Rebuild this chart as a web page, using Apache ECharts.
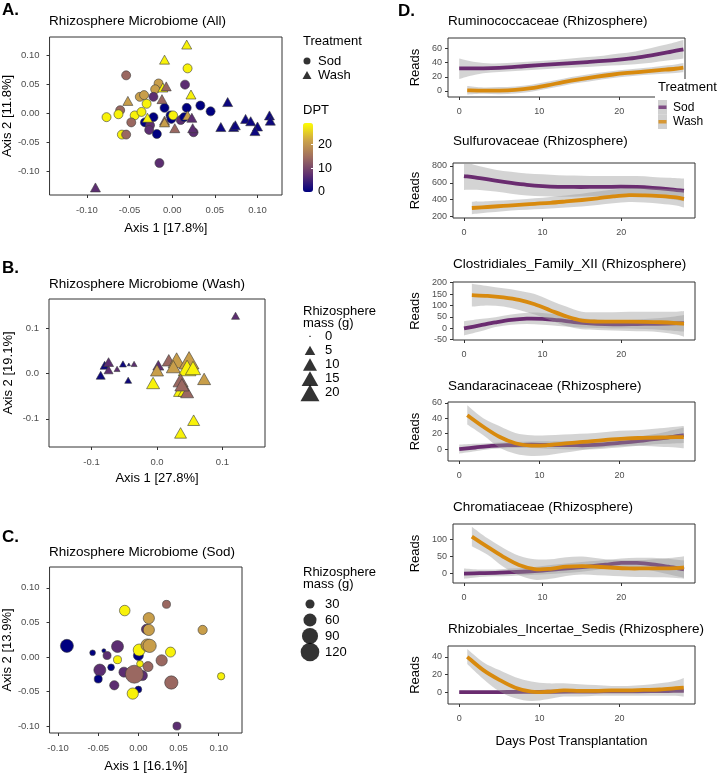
<!DOCTYPE html>
<html><head><meta charset="utf-8">
<script src="https://cdn.jsdelivr.net/npm/echarts@6/dist/echarts.min.js"></script>
<style>html,body{margin:0;padding:0;background:#fff}#c{width:720px;height:774px}</style>
</head><body><div id="c"></div>
<script>
// ================= DATA =================
// Panel A (all samples): [Axis1, Axis2, DPT]
const allSod = [[0.018,0.077,28],[-0.054,0.065,14],[-0.016,0.051,21],[-0.020,0.041,21],[0.015,0.049,7],[-0.038,0.028,21],[-0.033,0.031,21],[-0.022,0.028,7],[-0.030,0.016,28],[-0.061,0.005,14],[-0.063,-0.002,28],[-0.077,-0.007,28],[-0.044,-0.004,28],[-0.036,0.002,28],[-0.048,-0.016,14],[-0.059,-0.037,28],[-0.054,-0.037,14],[-0.009,0.009,0],[-0.022,-0.007,0],[-0.032,-0.016,0],[-0.026,-0.021,7],[-0.027,-0.029,7],[-0.018,-0.036,0],[-0.002,-0.004,0],[-0.001,-0.010,0],[0.001,-0.004,28],[0.010,-0.012,7],[0.014,-0.007,0],[0.017,0.009,0],[0.033,0.013,0],[0.045,0.003,0],[0.025,-0.033,7],[-0.015,-0.086,7]];
const allWash = [[0.017,0.118,28],[-0.009,0.092,28],[-0.011,0.044,28],[-0.007,0.046,14],[0.022,0.032,28],[-0.052,0.021,21],[-0.012,0.024,14],[0.065,0.019,1],[-0.029,-0.008,28],[-0.009,-0.013,14],[-0.009,-0.016,21],[0.003,-0.026,14],[0.018,-0.004,21],[0.023,-0.008,7],[0.024,-0.026,7],[0.057,-0.024,1],[0.072,-0.024,1],[0.074,-0.021,1],[0.086,-0.010,1],[0.092,-0.014,1],[0.100,-0.023,1],[0.097,-0.031,1],[0.114,-0.004,1],[0.115,-0.013,1],[-0.090,-0.128,7]];
// Panel B (Wash): [Axis1, Axis2, DPT, mass g]
const washPts = [[0.120,0.127,7,2.5],[-0.086,-0.004,1,3.4],[-0.080,0.018,1,3.4],[-0.074,0.025,7,4.4],[-0.074,0.008,7,3.4],[-0.061,0.010,7,1.1],[-0.052,0.021,1,1.7],[-0.043,0.020,1,0.1],[-0.035,0.021,7,1.1],[-0.044,-0.015,1,1.7],[0.002,0.018,7,5.6],[0.000,0.007,21,8.4],[-0.006,-0.021,28,8.4],[0.018,0.029,14,8.4],[0.030,0.029,21,15.6],[0.025,0.015,21,10],[0.049,0.029,21,22],[0.046,0.012,28,17],[0.055,0.012,28,12],[0.072,-0.012,21,8.4],[0.036,-0.015,14,11.7],[0.036,-0.037,28,10],[0.043,-0.037,28,10],[0.046,-0.041,14,8.4],[0.038,-0.025,14,10],[0.056,-0.103,28,6.9],[0.036,-0.131,28,6.9]];
// Panel C (Sod): [Axis1, Axis2, DPT, mass g]
const sodPts = [[-0.089,0.016,0,60],[-0.057,0.006,0,12.5],[-0.043,0.009,0,6.6],[-0.039,0.002,7,23.6],[-0.026,0.015,7,51],[-0.026,-0.004,28,23.6],[-0.034,-0.015,0,17],[-0.048,-0.019,7,51],[-0.050,-0.032,0,23.6],[-0.030,-0.041,7,31],[-0.018,-0.022,7,36],[0.005,-0.027,7,36],[-0.005,-0.025,14,112],[0.000,-0.047,0,17],[-0.007,-0.053,28,45],[0.002,-0.010,28,17],[0.000,0.002,0,36],[0.001,0.010,28,51],[0.010,0.040,7,36],[0.013,0.039,21,45],[0.013,0.056,21,45],[0.011,0.017,21,55],[0.014,0.016,21,62],[-0.017,0.067,28,40],[0.035,0.076,14,23.6],[0.012,-0.014,14,36],[0.029,-0.005,14,45],[0.040,0.007,28,36],[0.041,-0.037,14,62],[0.080,0.039,21,31],[0.103,-0.028,28,20],[0.048,-0.100,7,23.6]];
const treatments = ['Sod','Wash'];
const dptTicks = [0,10,20];
const massLegendB = [0,5,10,15,20];
const massLegendC = [30,60,90,120];
const ticksA = [-0.10,-0.05,0,0.05,0.10];
const ticksB = [-0.1,0,0.1];
const ticksC = [-0.10,-0.05,0,0.05,0.10];

// Panel D: loess fits (mean, lower, upper)
const daysSod  = [0,2,4,6,8,10,12,14,16,18,20,22,24,26,28];
const daysWash = [1,3,5,7,9,11,13,15,17,19,21,23,25,27,28];
const dayTicks = [0,10,20];
const familyNames = ['Ruminococcaceae (Rhizosphere)','Sulfurovaceae (Rhizosphere)','Clostridiales_Family_XII (Rhizosphere)','Sandaracinaceae (Rhizosphere)','Chromatiaceae (Rhizosphere)','Rhizobiales_Incertae_Sedis (Rhizosphere)'];
const readTicks = [[0,20,40,60],[200,400,600,800],[-50,0,50,100,150,200],[0,20,40,60],[0,50,100],[0,20,40]];

const rumSod    = [32,32,32.5,33.5,35,36.5,38,39.5,41,42.5,44.5,47,50.5,54.5,59];
const rumSodLo  = [17,23,26,27.5,29,30.5,32,33,34,35.5,36.5,38,40,43,46];
const rumSodHi  = [46,41,39,39.5,41,42.5,44,46,48,50,53,56,61,66,72];
const rumWash   = [1,0.5,0.5,1.5,4,8,12.5,16.5,20,23,25.5,27.5,29.5,31.5,33];
const rumWashLo = [-5,-4,-4.5,-3.5,-1,3,7.5,11.5,15,18,20.5,22.5,24,25.5,26.5];
const rumWashHi = [7,5,5.5,6.5,9,13,17.5,21.5,25,28,30.5,32.5,35,37.5,39.5];

const sulSod    = [680,655,625,598,575,560,552,550,550,551,553,550,540,525,505];
const sulSodLo  = [515,515,495,470,450,440,435,435,440,445,450,445,430,410,380];
const sulSodHi  = [850,795,755,730,710,700,690,685,680,680,680,680,670,660,650];
const sulWash   = [300,312,325,338,350,362,378,395,415,438,453,450,440,425,408];
const sulWashLo = [225,245,262,275,285,295,305,318,335,355,370,365,350,330,305];
const sulWashHi = [375,380,388,400,415,430,450,470,495,520,535,535,530,520,510];

const cloSod    = [-1,12,25,36,42,41,35,27,21,18,17,18,19,20,22];
const cloSodLo  = [-32,-15,5,15,18,15,10,5,2,0,-1,-2,-5,-10,-15];
const cloSodHi  = [30,40,48,60,68,67,60,48,40,36,35,38,42,48,58];
const cloWash   = [145,142,135,124,105,78,52,33,29,29,29,28,26,22,19];
const cloWashLo = [95,100,95,80,60,35,10,-5,-8,-10,-12,-14,-18,-28,-38];
const cloWashHi = [195,185,175,165,150,122,95,72,70,70,72,72,72,72,75];

const sanSod    = [0,2,4,5,5.5,5.5,5,5,5,6,8,10,12.5,15,18];
const sanSodLo  = [-6,-3,0,1,1.5,1,0,-0.5,-0.5,0.5,2,4,6,7,8];
const sanSodHi  = [6,7,8,9,9.5,10,10,10.5,10.5,11.5,14,16,19,23,28];
const sanWash   = [44,29,16,7.5,4.5,5,7,9,10.5,12.5,14,14.5,15,15.5,15.5];
const sanWashLo = [32,18,2,-6,-9,-8,-5,-2,1,3,4,4,3,2,1];
const sanWashHi = [57,40,30,21,18,18,19,20,21,23,24,25,27,29,30];

const chrSod    = [0,1,2,4,6,9,13,17,21,26,31,31,27,20,12];
const chrSodLo  = [-15,-10,-8,-7,-5,-3,0,3,8,14,18,16,8,-2,-12];
const chrSodHi  = [15,12,12,15,17,22,27,32,36,40,44,46,46,43,38];
const chrWash   = [108,78,49,25,13,14,20,22,20,17,15,15,15,16,18];
const chrWashLo = [80,55,20,-5,-18,-15,-7,-3,-5,-7,-9,-10,-11,-13,-15];
const chrWashHi = [137,103,75,52,42,42,48,50,45,40,39,40,43,48,51];

const rhiSod    = [0,0,0.1,0.2,0.3,0.4,0.5,0.6,0.7,0.8,0.9,1.0,1.1,1.3,1.5];
const rhiSodLo  = [-1.5,-1.2,-1,-0.9,-0.8,-0.7,-0.6,-0.5,-0.4,-0.3,-0.2,-0.1,0,0.1,0.2];
const rhiSodHi  = [1.5,1.2,1.2,1.3,1.4,1.5,1.6,1.7,1.8,1.9,2,2.1,2.2,2.5,2.8];
const rhiWash   = [40,25,14,5,0.5,0.5,2,1.5,1.5,2,2,2.5,3,4.5,5.2];
const rhiWashLo = [32,15,1,-7,-10,-8,-5,-5,-4,-4,-4,-4,-4,-4,-5];
const rhiWashHi = [49,34,25,17,12,10,10,9,8,7,7,8,10,13,16];

// ================= STYLE / LAYOUT =================
const FONT = '"Liberation Sans", Arial, Helvetica, sans-serif';
const SOD_COL = '#6a2c70', WASH_COL = '#d88a0e', BAND = 'rgba(153,153,153,0.42)';
const DPT_COLORS = ['#000080','#5f3070','#9e6c60','#cda448','#ffff00'];
const massSizeB = m => 2 + 3.8*Math.sqrt(m);
const massSizeC = m => Math.max(2, 1.75*Math.sqrt(m) - 0.5);

const grids=[], xAxes=[], yAxes=[], series=[], titles=[];
function addGrid(g, xa, ya){
  grids.push(Object.assign({show:true, borderColor:'#333', borderWidth:1, backgroundColor:'rgba(0,0,0,0)'}, g));
  const i = grids.length-1;
  xAxes.push(Object.assign({gridIndex:i}, xa));
  yAxes.push(Object.assign({gridIndex:i}, ya));
  return i;
}
function valAxis(min, max, ticks, fmt, fs, margin, extra){
  return Object.assign({
    type:'value', min:min, max:max, splitLine:{show:false},
    axisLine:{show:false, onZero:false},
    axisTick:{show:true, length:3, customValues:ticks, lineStyle:{color:'#333', width:1}},
    axisLabel:{customValues:ticks, formatter:fmt, fontSize:fs, color:'#4d4d4d', fontFamily:FONT, margin:margin}
  }, extra||{});
}
function hiddenAxis(type, extra){
  return Object.assign({type:type, show:true, axisLine:{show:false}, axisTick:{show:false}, axisLabel:{show:false}, splitLine:{show:false}}, extra||{});
}
function catLegendAxis(cats, margin, fs){
  return {type:'category', data:cats, inverse:true, position:'right', axisLine:{show:false}, axisTick:{show:false}, z:60,
    axisLabel:{interval:0, fontFamily:FONT, fontSize:fs, color:'#000', margin:margin}};
}
function title(text, left, top, fs, bold, lh){
  const ts = {fontFamily:FONT, fontSize:fs, fontWeight:bold?'bold':'normal', color:'#000'};
  if (lh) ts.lineHeight = lh;
  titles.push({text:text, left:left, top:top, padding:0, z:100, textStyle:ts});
}
const nameStyle = {fontFamily:FONT, fontSize:13, color:'#000'};

// ---- Panel A ----
const fmt2 = v => v.toFixed(2), fmt1 = v => v.toFixed(1);
const gA = addGrid({left:49, top:37, width:233, height:158},
  valAxis(-0.1438, 0.1287, ticksA, fmt2, 9.5, 10, {name:'Axis 1 [17.8%]', nameLocation:'middle', nameGap:27, nameTextStyle:nameStyle}),
  valAxis(-0.141, 0.131, ticksA, fmt2, 9.5, 10, {name:'Axis 2 [11.8%]', nameLocation:'middle', nameGap:34, nameTextStyle:nameStyle}));
const sA1 = series.length;
series.push({type:'scatter', name:'Sod', xAxisIndex:gA, yAxisIndex:gA, data:allSod, symbol:'circle', symbolSize:9, itemStyle:{borderColor:'#3a3a3a', borderWidth:0.6, opacity:1}});
series.push({type:'scatter', name:'Wash', xAxisIndex:gA, yAxisIndex:gA, data:allWash, symbol:'triangle', symbolSize:[10,9], itemStyle:{borderColor:'#3a3a3a', borderWidth:0.6, opacity:1}});

// ---- Panel B ----
const gB = addGrid({left:49, top:299, width:216, height:148},
  valAxis(-0.165, 0.165, ticksB, fmt1, 9.5, 10, {name:'Axis 1 [27.8%]', nameLocation:'middle', nameGap:25, nameTextStyle:nameStyle}),
  valAxis(-0.162, 0.164, ticksB, fmt1, 9.5, 10, {name:'Axis 2 [19.1%]', nameLocation:'middle', nameGap:34, nameTextStyle:nameStyle}));
const sB = series.length;
series.push({type:'scatter', name:'Wash mass', xAxisIndex:gB, yAxisIndex:gB, data:washPts, symbol:'triangle',
  symbolSize: d => { const s = massSizeB(d[3]); return [s, s*0.88]; }, itemStyle:{borderColor:'#3a3a3a', borderWidth:0.6, opacity:1}});

// ---- Panel C ----
const gC = addGrid({left:49, top:567, width:193, height:167},
  valAxis(-0.1106, 0.129, ticksC, fmt2, 9.5, 10, {name:'Axis 1 [16.1%]', nameLocation:'middle', nameGap:27, nameTextStyle:nameStyle}),
  valAxis(-0.110, 0.130, ticksC, fmt2, 9.5, 10, {name:'Axis 2 [13.9%]', nameLocation:'middle', nameGap:34, nameTextStyle:nameStyle}));
const sC = series.length;
series.push({type:'scatter', name:'Sod mass', xAxisIndex:gC, yAxisIndex:gC, data:sodPts, symbol:'circle',
  symbolSize: d => massSizeC(d[3]), itemStyle:{borderColor:'#3a3a3a', borderWidth:0.6, opacity:1}});

// ---- Legends for A, B, C (mini grids) ----
const gLT = addGrid({left:300, top:54, width:14, height:28, show:false}, hiddenAxis('value', {min:-1, max:1}), catLegendAxis(treatments, 4, 13));
series.push({type:'scatter', xAxisIndex:gLT, yAxisIndex:gLT, data:[[0,treatments[0]]], symbol:'circle', symbolSize:7, itemStyle:{color:'#000'}, silent:true});
series.push({type:'scatter', xAxisIndex:gLT, yAxisIndex:gLT, data:[[0,treatments[1]]], symbol:'triangle', symbolSize:[9,8], itemStyle:{color:'#000'}, silent:true});

const gCB = addGrid({left:303, top:123, width:10, height:69, show:false},
  hiddenAxis('value', {min:0, max:1}),
  {type:'value', min:0, max:29, position:'right', splitLine:{show:false}, axisLine:{show:false, onZero:false}, z:20,
   axisTick:{show:true, inside:true, length:2, customValues:dptTicks, lineStyle:{color:'#fff', width:1}},
   axisLabel:{customValues:dptTicks, fontFamily:FONT, fontSize:12.5, color:'#000', margin:5}});

const gLB = addGrid({left:303, top:329, width:14, height:71, show:false}, hiddenAxis('value', {min:-1, max:1}), catLegendAxis(massLegendB.map(String), 8, 13));
series.push({type:'scatter', xAxisIndex:gLB, yAxisIndex:gLB, data:massLegendB.map(m=>[0,String(m),m]), symbol:'triangle',
  symbolSize: d => { const s = massSizeB(d[2]); return [s, s*0.88]; }, itemStyle:{color:'#000'}, silent:true});

const gLC = addGrid({left:303, top:596, width:14, height:64, show:false}, hiddenAxis('value', {min:-1, max:1}), catLegendAxis(massLegendC.map(String), 8, 13));
series.push({type:'scatter', xAxisIndex:gLC, yAxisIndex:gLC, data:massLegendC.map(m=>[0,String(m),m]), symbol:'circle',
  symbolSize: d => massSizeC(d[2]), itemStyle:{color:'#000'}, silent:true});

// ---- Panel D ----
const dPanels = [
  {g:{left:448, top:38, width:237, height:59}, x:[-1.4,28.2], y:[-8.5,75], t:14, s:[rumSod,rumSodLo,rumSodHi], w:[rumWash,rumWashLo,rumWashHi], gap:26},
  {g:{left:453, top:163, width:242, height:55}, x:[-1.4,29.4], y:[181,835], t:134, s:[sulSod,sulSodLo,sulSodHi], w:[sulWash,sulWashLo,sulWashHi], gap:31},
  {g:{left:453, top:282, width:242, height:58}, x:[-1.4,29.4], y:[-52,203], t:257, s:[cloSod,cloSodLo,cloSodHi], w:[cloWash,cloWashLo,cloWashHi], gap:31},
  {g:{left:448, top:402, width:247, height:59}, x:[-1.4,29.4], y:[-15.6,61.3], t:379, s:[sanSod,sanSodLo,sanSodHi], w:[sanWash,sanWashLo,sanWashHi], gap:26},
  {g:{left:453, top:524, width:242, height:59}, x:[-1.4,29.4], y:[-27.6,145], t:500, s:[chrSod,chrSodLo,chrSodHi], w:[chrWash,chrWashLo,chrWashHi], gap:31},
  {g:{left:448, top:646, width:247, height:58}, x:[-1.4,29.4], y:[-13.4,52.3], t:622, s:[rhiSod,rhiSodLo,rhiSodHi], w:[rhiWash,rhiWashLo,rhiWashHi], gap:26}
];
// Catmull-Rom -> cubic Bezier path through pixel points (rendering only)
function curvePath(pts, move){
  let d = (move ? 'M' : 'L') + pts[0][0] + ' ' + pts[0][1];
  for (let i = 0; i < pts.length-1; i++){
    const p0 = pts[Math.max(0,i-1)], p1 = pts[i], p2 = pts[i+1], p3 = pts[Math.min(pts.length-1,i+2)];
    const c1 = [p1[0] + (p2[0]-p0[0])/6, p1[1] + (p2[1]-p0[1])/6];
    const c2 = [p2[0] - (p3[0]-p1[0])/6, p2[1] - (p3[1]-p1[1])/6];
    d += ' C' + c1[0] + ' ' + c1[1] + ' ' + c2[0] + ' ' + c2[1] + ' ' + p2[0] + ' ' + p2[1];
  }
  return d;
}
function addSmooth(gi, xs, arr, col){
  const [m, lo, hi] = arr;
  series.push({type:'custom', xAxisIndex:gi, yAxisIndex:gi, silent:true, z:2,
    data: xs.map((x,i)=>[x, lo[i], hi[i]]), encode:{x:0, y:[1,2]},
    renderItem: (params, api) => {
      if (params.dataIndex !== 0) return null;
      const up = xs.map((x,i)=>api.coord([x, hi[i]]));
      const dn = xs.map((x,i)=>api.coord([x, lo[i]])).reverse();
      const cs = params.coordSys;
      const d = curvePath(up, true) + ' ' + curvePath(dn, false) + ' Z';
      return {type:'group', clipPath:{type:'rect', shape:{x:cs.x, y:cs.y, width:cs.width, height:cs.height}},
        children:[{type:'path', shape:{pathData:d}, style:{fill:BAND, stroke:null}}]};
    }});
  series.push({type:'custom', xAxisIndex:gi, yAxisIndex:gi, silent:true, z:2,
    data: xs.map((x,i)=>[x, m[i]]), encode:{x:0, y:1},
    renderItem: (params, api) => {
      if (params.dataIndex !== 0) return null;
      const pts = xs.map((x,i)=>api.coord([x, m[i]]));
      const cs = params.coordSys;
      return {type:'group', clipPath:{type:'rect', shape:{x:cs.x, y:cs.y, width:cs.width, height:cs.height}},
        children:[{type:'path', shape:{pathData:curvePath(pts, true)}, style:{fill:null, stroke:col, lineWidth:3.8, lineCap:'butt', lineJoin:'round'}}]};
    }});
}
dPanels.forEach((p, k) => {
  const last = k === dPanels.length-1;
  const gi = addGrid(p.g,
    valAxis(p.x[0], p.x[1], dayTicks, v => String(v), 9, 10, last ? {name:'Days Post Transplantation', nameLocation:'middle', nameGap:31, nameTextStyle:nameStyle} : {}),
    valAxis(p.y[0], p.y[1], readTicks[k], v => String(v), 9, 6, {name:'Reads', nameLocation:'middle', nameGap:p.gap, nameTextStyle:nameStyle}));
  addSmooth(gi, daysSod, p.s, SOD_COL);
  addSmooth(gi, daysWash, p.w, WASH_COL);
  title(familyNames[k], p.g.left, p.t, 13.5, false);
});

// D legend (mini grid)
const gLD = addGrid({left:658, top:100, width:9, height:29, show:false, z:60}, hiddenAxis('value', {min:-1, max:1}), catLegendAxis(treatments, 6, 12));
series.push({type:'scatter', xAxisIndex:gLD, yAxisIndex:gLD, data:treatments.map(t=>[0,t]), symbol:'rect', symbolSize:[9,14.5], itemStyle:{color:'#c4c4c4'}, silent:true, z:60});
series.push({type:'scatter', xAxisIndex:gLD, yAxisIndex:gLD, data:[[0,treatments[0]]], symbol:'rect', symbolSize:[8,3.5], itemStyle:{color:SOD_COL}, silent:true, z:61});
series.push({type:'scatter', xAxisIndex:gLD, yAxisIndex:gLD, data:[[0,treatments[1]]], symbol:'rect', symbolSize:[8,3.5], itemStyle:{color:WASH_COL}, silent:true, z:61});

// ---- Titles ----
title('A.', 2, 2, 17, true);
title('Rhizosphere Microbiome (All)', 49, 14, 13.5, false);
title('Treatment', 303, 35, 13, false);
title('DPT', 303, 104, 13, false);
title('B.', 2, 260, 17, true);
title('Rhizosphere Microbiome (Wash)', 49, 277, 13.5, false);
title('Rhizosphere\nmass (g)', 303, 305, 13, false, 12.5);
title('C.', 2, 529, 17, true);
title('Rhizosphere Microbiome (Sod)', 49, 545, 13.5, false);
title('Rhizosphere\nmass (g)', 303, 566, 13, false, 12.5);
title('D.', 398, 3, 17, true);
title('Treatment', 658, 81, 13, false);

const option = {
  animation:false,
  backgroundColor:'#fff',
  textStyle:{fontFamily:FONT},
  title: titles,
  grid: grids, xAxis: xAxes, yAxis: yAxes,
  visualMap: [{type:'continuous', min:0, max:29, dimension:2, seriesIndex:[sA1, sA1+1, sB, sC],
    inRange:{color:DPT_COLORS}, left:303, top:123, itemWidth:10, itemHeight:69, padding:0,
    calculable:false, orient:'vertical', text:null, hoverLink:false}],
  graphic: [{type:'rect', left:655, top:79, shape:{width:65, height:55}, style:{fill:'#fff'}, z:50, silent:true}],
  series: series
};
const chart = echarts.init(document.getElementById('c'), null, {renderer:'canvas'});
chart.setOption(option);
</script></body></html>
